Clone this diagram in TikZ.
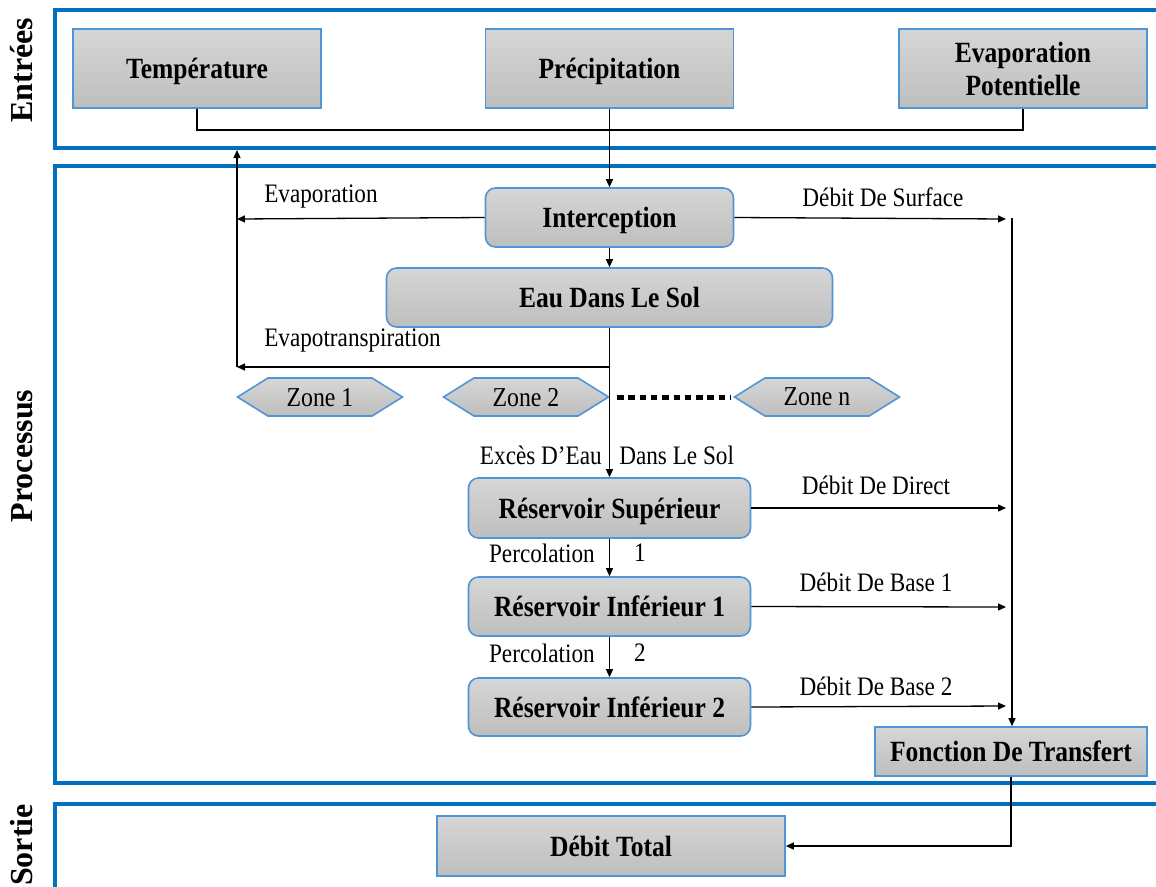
\documentclass[tikz,border=0pt]{standalone}
\usepackage{fontspec}
\setmainfont{Liberation Serif}[FakeStretch=0.87]
\newfontfamily\sidefont{Liberation Serif}
\usetikzlibrary{arrows.meta,shapes.symbols,calc}

\definecolor{frameblue}{RGB}{0,112,192}
\definecolor{edgeblue}{RGB}{80,150,215}
\definecolor{greytop}{RGB}{214,214,214}
\definecolor{greybot}{RGB}{190,190,190}
\newcommand{\pxu}{0.75pt}

\tikzset{
  x=0.75pt, y=-0.75pt,
  frame/.style={draw=frameblue, line width=3.5*\pxu},
  box/.style={draw=edgeblue, line width=1.6*\pxu, top color=greytop, bottom color=greybot,
    font=\fontsize{22}{25}\selectfont\bfseries, align=center, inner sep=0pt, text depth=0pt},
  rbox/.style={box, rounded corners=10*\pxu},
  zone/.style={draw=edgeblue, line width=1.6*\pxu, top color=greytop, bottom color=greybot,
    shape=signal, signal to=west and east, signal pointer angle=64,
    minimum height=38*\pxu, minimum width=165*\pxu, inner sep=0pt, text depth=0pt,
    font=\fontsize{20.5}{24}\selectfont},
  lbl/.style={font=\fontsize{20}{24}\selectfont, inner sep=0pt},
  side/.style={font=\fontsize{24}{28}\sidefont\bfseries, rotate=90, inner sep=0pt},
  conn/.style={line width=1.3*\pxu, black},
  arr/.style={conn, -{Triangle[length=8*\pxu, width=7*\pxu]}},
}

\begin{document}
\begin{tikzpicture}
\useasboundingbox (0,0) rectangle (1156,886);
\fill[white] (0,0) rectangle (1156,886);

% section frames
\draw[frame] (55,10) rectangle (1170,148);
\draw[frame] (55,166) rectangle (1170,783);
\draw[frame] (55,804) rectangle (1170,910);

\node[side] (sin)  at (22,70)  {Entrées};
\node[side] (spro) at (22,456) {Processus};
\node[side] (sout) at (22,845) {Sortie};

% inputs
\node[box, minimum width=248*\pxu, minimum height=79*\pxu] (temp)   at (197,68.5)  {Température};
\node[box, minimum width=248*\pxu, minimum height=79*\pxu] (precip) at (609.5,68.5) {Précipitation};
\node[box, minimum width=248*\pxu, minimum height=79*\pxu] (evapp)  at (1023,68.5) {Evaporation\\Potentielle};

% process
\node[rbox, minimum width=248*\pxu, minimum height=59*\pxu] (interc) at (609.5,217.5) {Interception};
\node[rbox, minimum width=446*\pxu, minimum height=59*\pxu] (eau)    at (609.5,297.5) {Eau Dans Le Sol};

\node[zone] (z1) at (320,397) {Zone 1};
\node[zone] (z2) at (526,397) {Zone 2};
\node[zone] (zn) at (817,397) {Zone n};

\node[rbox, minimum width=282*\pxu, minimum height=60*\pxu] (rsup)  at (609.5,508) {Réservoir Supérieur};
\node[rbox, minimum width=282*\pxu, minimum height=59*\pxu] (rinf1) at (609.5,606.5) {Réservoir Inférieur 1};
\node[rbox, minimum width=282*\pxu, minimum height=58*\pxu] (rinf2) at (609.5,707) {Réservoir Inférieur 2};

\node[box, minimum width=272*\pxu, minimum height=49*\pxu] (ftrans) at (1011,751.5) {Fonction De Transfert};

% output
\node[box, minimum width=348*\pxu, minimum height=60*\pxu] (dtot) at (611,846) {Débit Total};

% junction points
\coordinate (jn)   at (609.5,130);
\coordinate (evl)  at (237,219);
\coordinate (etr)  at (609.5,367);
\coordinate (etl)  at (237,367);
\coordinate (etop) at (237,150);
\coordinate (sdr)  at (1006,219);
\coordinate (colt) at (1012,218);
\coordinate (ddr)  at (1006,508);
\coordinate (db1)  at (1006,607);
\coordinate (db2)  at (1006,706);
\coordinate (dots0) at (617,397);
\coordinate (dots1) at (731,397);

% input collector
\draw[conn] (temp.south) |- (jn) -| (evapp.south);
\draw[arr] (precip.south) -- (interc.north);

% evaporation losses
\draw[arr] (interc.west) -- (evl);
\draw[arr] (etr) -- (etl);
\draw[arr] (etl) -- (etop);

% vertical flow
\draw[arr] (interc.south) -- (eau.north);
\draw[arr] (eau.south) -- (rsup.north);
\draw[arr] (rsup.south) -- (rinf1.north);
\draw[arr] (rinf1.south) -- (rinf2.north);

% lateral flows
\draw[arr] (interc.east) -- (sdr);
\draw[arr] (rsup.east) -- (ddr);
\draw[arr] (rinf1.east) -- (db1);
\draw[arr] (rinf2.east) -- (db2);
\draw[arr] (colt) -- (ftrans.north -| colt);
\draw[arr] (ftrans.south) |- (dtot.east);

% zone ellipsis
\draw[line width=5*\pxu, dash pattern=on 6.5*\pxu off 4.8*\pxu] (dots0) -- (dots1);

% labels
\node[lbl, anchor=west] (levap) at (264,197) {Evaporation};
\node[lbl] (lsurf) at (883,197) {Débit De Surface};
\node[lbl, anchor=west] (letr) at (264,341) {Evapotranspiration};
\node[lbl, anchor=east] (lexc) at (602,455) {Excès D’Eau};
\node[lbl, anchor=west] (lsol) at (619,455) {Dans Le Sol};
\node[lbl] (ldir) at (876,485) {Débit De Direct};
\node[lbl, anchor=east] (lp1) at (595,553) {Percolation};
\node[lbl] (lp1n) at (640,553) {1};
\node[lbl] (lb1) at (876,582) {Débit De Base 1};
\node[lbl, anchor=east] (lp2) at (595,653) {Percolation};
\node[lbl] (lp2n) at (640,653) {2};
\node[lbl] (lb2) at (876,686) {Débit De Base 2};
\end{tikzpicture}
\end{document}
